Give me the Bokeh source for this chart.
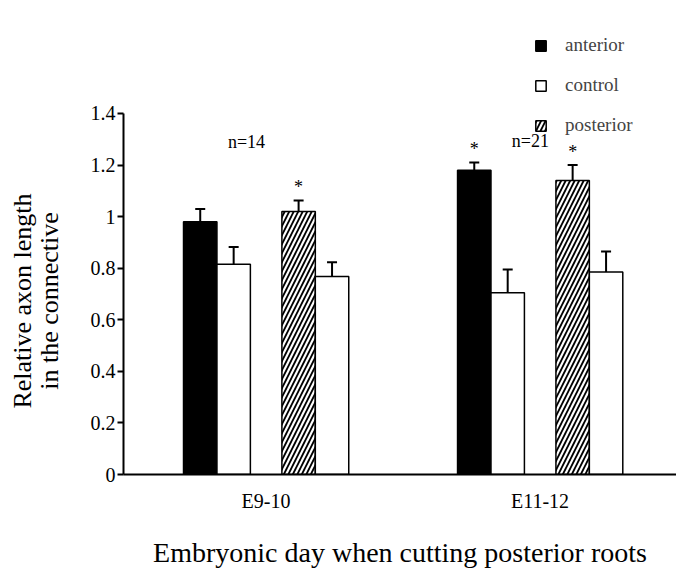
from bokeh.plotting import figure
from bokeh.models import (ColumnDataSource, Whisker, TeeHead, Legend, LegendItem,
                          FixedTicker, Range1d)
from bokeh.embed import file_html
from bokeh.resources import INLINE
from bokeh.core.properties import value

# ---- data ----
groups = ["E9-10", "E11-12"]
anterior = [0.98, 1.18]
anterior_err = [0.05, 0.03]
control_a = [0.815, 0.705]
control_a_err = [0.067, 0.09]
posterior = [1.02, 1.14]
posterior_err = [0.043, 0.06]
control_p = [0.768, 0.785]
control_p_err = [0.055, 0.08]
anterior_sig = ["", "*"]
posterior_sig = ["*", "*"]
n_labels = ["n=14", "n=21"]
y_ticks = [0, 0.2, 0.4, 0.6, 0.8, 1, 1.2, 1.4]
y_tick_labels = ["0", "0.2", "0.4", "0.6", "0.8", "1", "1.2", "1.4"]
y_title_lines = ["Relative axon length", "in the connective"]
x_title = "Embryonic day when cutting posterior roots"

SERIF = "Liberation Serif"

centers = [1, 2]
bw = 0.122
offsets = {"ant": -0.240, "ca": -0.118, "post": 0.119, "cp": 0.241}

p = figure(width=676, height=570, output_backend="svg", toolbar_location=None,
           x_range=Range1d(0.480, 2.498), y_range=Range1d(0, 1.7994),
           min_border_left=123, min_border_right=0, min_border_top=10,
           min_border_bottom=96)
p.outline_line_color = None
p.xgrid.grid_line_color = None
p.ygrid.grid_line_color = None
p.background_fill_color = "white"


def src(vals, errs, off, sig=None):
    d = dict(x=[c + off for c in centers], top=vals,
             upper=[v + e for v, e in zip(vals, errs)])
    if sig is not None:
        d["sig"] = sig
        d["sy"] = [v + e + 0.012 for v, e in zip(vals, errs)]
    return ColumnDataSource(d)


s_ant = src(anterior, anterior_err, offsets["ant"], anterior_sig)
s_ca = src(control_a, control_a_err, offsets["ca"])
s_post = src(posterior, posterior_err, offsets["post"], posterior_sig)
s_cp = src(control_p, control_p_err, offsets["cp"])

for s in (s_ant, s_ca, s_post, s_cp):
    w = Whisker(source=s, base="x", upper="upper", lower="top", dimension="height",
                line_color="black", line_width=2, lower_head=None,
                upper_head=TeeHead(size=10, line_color="black", line_width=2))
    p.add_layout(w)

r_ant = p.vbar(x="x", top="top", width=bw, source=s_ant, fill_color="black",
               line_color="black", line_width=1.5)
r_ca = p.vbar(x="x", top="top", width=bw, source=s_ca, fill_color="white",
              line_color="black", line_width=1.5)
r_post = p.vbar(x="x", top="top", width=bw, source=s_post, fill_color="white",
                line_color="black", line_width=1.5, hatch_pattern="/",
                hatch_color="black", hatch_scale=9, hatch_weight=1.8)
r_cp = p.vbar(x="x", top="top", width=bw, source=s_cp, fill_color="white",
              line_color="black", line_width=1.5)

for s in (s_ant, s_post):
    p.text(x="x", y="sy", text="sig", source=s, text_align="center",
           text_baseline="bottom", text_font=value(SERIF), text_font_size="18px",
           text_color="black")

p.text(x=[0.929, 1.965], y=[1.29, 1.295], text=n_labels, text_align="center",
       text_baseline="middle", text_font=value(SERIF), text_font_size="18px",
       text_color="black")

# axes
p.xaxis.ticker = FixedTicker(ticks=centers)
p.xaxis.major_label_overrides = {c: g for c, g in zip(centers, groups)}
p.xaxis.major_tick_line_color = None
p.xaxis.minor_tick_line_color = None
p.xaxis.axis_line_width = 2
p.xaxis.major_label_text_font = SERIF
p.xaxis.major_label_text_font_size = "20px"
p.xaxis.major_label_text_color = "black"
p.xaxis.major_label_standoff = 9
p.xaxis.axis_label = x_title
p.xaxis.axis_label_text_font = SERIF
p.xaxis.axis_label_text_font_size = "28px"
p.xaxis.axis_label_text_font_style = "normal"
p.xaxis.axis_label_text_color = "black"
p.xaxis.axis_label_standoff = 22

# the y title is centred on the 0-1.4 part of the axis (the frame runs higher
# to hold the legend), so each line is padded at its end with no-break spaces
pad = "\u00a0" * 18
p.yaxis.bounds = (0, 1.4)
p.yaxis.ticker = FixedTicker(ticks=y_ticks)
p.yaxis.major_label_overrides = {t: l for t, l in zip(y_ticks, y_tick_labels)}
p.yaxis.minor_tick_line_color = None
p.yaxis.major_tick_out = 6
p.yaxis.major_tick_in = 0
p.yaxis.major_tick_line_width = 2
p.yaxis.axis_line_width = 2
p.yaxis.major_label_text_font = SERIF
p.yaxis.major_label_text_font_size = "20px"
p.yaxis.major_label_text_color = "black"
p.yaxis.major_label_standoff = 2
p.yaxis.axis_label = "\n".join(line + pad for line in y_title_lines)
p.yaxis.axis_label_text_font = SERIF
p.yaxis.axis_label_text_font_size = "26px"
p.yaxis.axis_label_text_line_height = 0.9
p.yaxis.axis_label_text_font_style = "normal"
p.yaxis.axis_label_text_color = "black"
p.yaxis.axis_label_standoff = 24

legend = Legend(items=[LegendItem(label="anterior", renderers=[r_ant]),
                       LegendItem(label="control", renderers=[r_ca]),
                       LegendItem(label="posterior", renderers=[r_post])],
                location=(411, 338), orientation="vertical",
                glyph_width=13, glyph_height=13, label_standoff=18,
                label_text_font=SERIF, label_text_font_size="19px",
                label_height=20, spacing=18, padding=0, margin=0,
                border_line_color=None, background_fill_alpha=0)
p.add_layout(legend, "center")

open("out.html", "w").write(file_html(p, INLINE))
